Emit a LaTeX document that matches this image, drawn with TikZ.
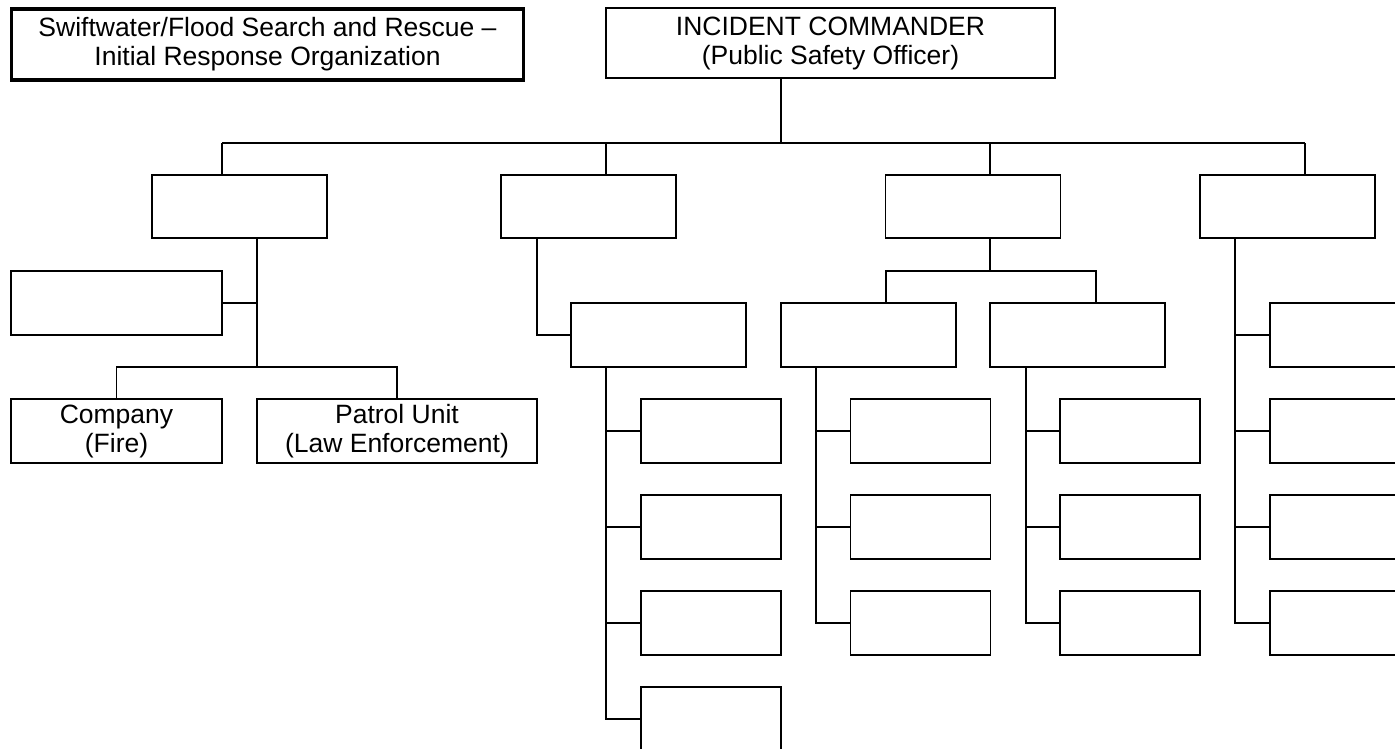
\documentclass[tikz,border=0pt]{standalone}
\usepackage{fontspec}
\setmainfont{Liberation Sans}
\usetikzlibrary{positioning}

\tikzset{
  orgbox/.style={draw=black,line width=1.4pt,rectangle,inner sep=0pt,align=center,
    font=\fontsize{26.5}{29}\selectfont},
  secbox/.style={orgbox,minimum width=175pt,minimum height=63pt},
  widebox/.style={orgbox,minimum width=211pt,minimum height=64pt},
  unitbox/.style={orgbox,minimum width=140pt,minimum height=64pt},
  link/.style={draw=black,line width=1.4pt},
}

\begin{document}
\begin{tikzpicture}[x=1pt,y=-1pt]
\useasboundingbox (0,0) rectangle (1395,748);
\clip (0,0) rectangle (1395,748);

\node[orgbox,line width=3.5pt,minimum width=512pt,minimum height=71pt] (title) at (267.5,44.5)
  {Swiftwater/Flood Search and Rescue –\\Initial Response Organization};
\node[orgbox,minimum width=449pt,minimum height=70pt] (ic) at (830.5,43)
  {INCIDENT COMMANDER\\(Public Safety Officer)};

\node[secbox] (secA) at (239.5,206.5) {};
\node[secbox] (secB) at (588.5,206.5) {};
\node[secbox] (secC) at (973,206.5) {};
\node[secbox] (secD) at (1287.5,206.5) {};

\coordinate (busA) at (222,143);
\coordinate (busB) at (606,143);
\coordinate (busC) at (990,143);
\coordinate (busD) at (1305,143);
\coordinate (icdrop) at (781,78);
\draw[link] (icdrop) -- (icdrop |- busA);
\draw[link] (busA) -- (busD);
\foreach \s/\b in {secA/busA,secB/busB,secC/busC,secD/busD}
  \draw[link] (\b) -- (\b |- \s.north);

% first branch
\node[widebox] (sideA) at (116.5,303) {};
\node[widebox] (company) at (116.5,431) {Company\\(Fire)};
\node[orgbox,minimum width=280pt,minimum height=64pt] (patrol) at (397,431)
  {Patrol Unit\\(Law Enforcement)};
\coordinate (stemA) at (257,367);
\draw[link] (secA.south -| stemA) -- (stemA);
\draw[link] (sideA.east) -- (sideA.east -| stemA);
\draw[link] (company.north) |- (stemA) -| (patrol.north);

% second branch
\node[secbox,minimum height=64pt] (grpB) at (658.5,335) {};
\coordinate (stemB) at (537,0);
\draw[link] (secB.south -| stemB) |- (grpB.west);
\foreach \y [count=\i] in {431,527,623,719}
  \node[unitbox] (b\i) at (711,\y) {};
\coordinate (stemB2) at (606,0);
\draw[link] (grpB.south -| stemB2) |- (b4.west);
\foreach \i in {1,2,3}
  \draw[link] (b\i.west) -- (b\i.west -| stemB2);

% third branch
\node[secbox,minimum height=64pt] (grpC1) at (868.5,335) {};
\node[secbox,minimum height=64pt] (grpC2) at (1077.5,335) {};
\coordinate (forkC) at (990,271);
\coordinate (forkC1) at (886,271);
\coordinate (forkC2) at (1096,271);
\draw[link] (secC.south -| forkC) -- (forkC);
\draw[link] (grpC1.north -| forkC1) |- (forkC2) -- (grpC2.north -| forkC2);
\foreach \y [count=\i] in {431,527,623} {
  \node[unitbox] (c\i) at (920.5,\y) {};
  \node[unitbox] (e\i) at (1130,\y) {};
}
\coordinate (stemC1) at (816,0);
\coordinate (stemC2) at (1026,0);
\draw[link] (grpC1.south -| stemC1) |- (c3.west);
\draw[link] (grpC2.south -| stemC2) |- (e3.west);
\foreach \i in {1,2} {
  \draw[link] (c\i.west) -- (c\i.west -| stemC1);
  \draw[link] (e\i.west) -- (e\i.west -| stemC2);
}

% fourth branch
\foreach \y [count=\i] in {335,431,527,623}
  \node[unitbox] (d\i) at (1340,\y) {};
\coordinate (stemD) at (1235,0);
\draw[link] (secD.south -| stemD) |- (d4.west);
\foreach \i in {1,2,3}
  \draw[link] (d\i.west) -- (d\i.west -| stemD);

\end{tikzpicture}
\end{document}
